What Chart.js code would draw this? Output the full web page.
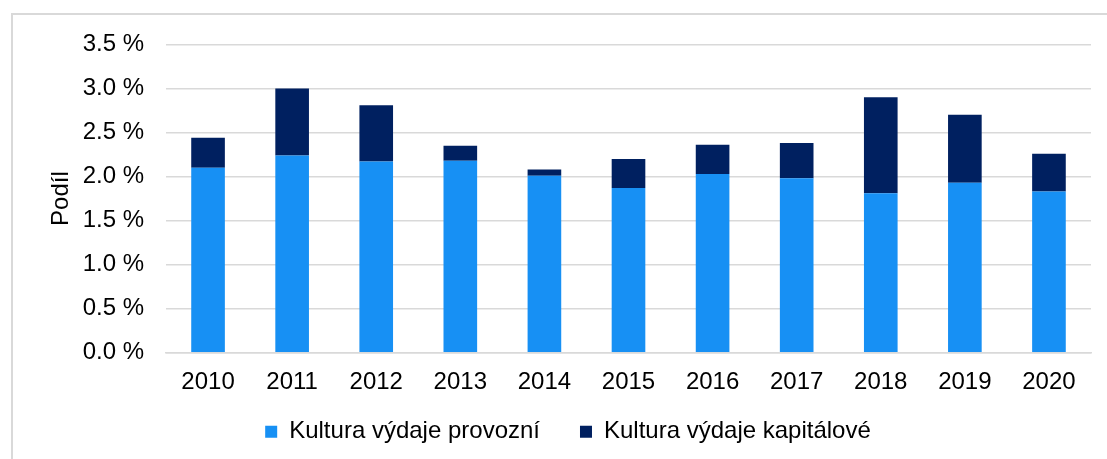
<!DOCTYPE html>
<html>
<head>
<meta charset="utf-8">
<script src="https://cdn.jsdelivr.net/npm/chart.js@4"></script>
<style>
  html, body { margin: 0; padding: 0; background: #fff; overflow: hidden; }
  #frame { position: absolute; left: 11px; top: 13px; width: 1130px; height: 490px; border: 2px solid #d9d9d9; }
  #wrap { position: absolute; left: 0; top: -7.5px; width: 1110px; height: 477.5px; }
</style>
</head>
<body>
<div id="frame"><div id="wrap"><canvas id="myChart"></canvas></div></div>
<script>
const years = ['2010', '2011', '2012', '2013', '2014', '2015', '2016', '2017', '2018', '2019', '2020'];
const provozni = [2.10, 2.24, 2.17, 2.18, 2.01, 1.87, 2.03, 1.98, 1.81, 1.93, 1.83];
const kapitalove = [0.34, 0.76, 0.64, 0.17, 0.07, 0.33, 0.33, 0.40, 1.09, 0.77, 0.43];
const seriesNames = ['Kultura výdaje provozní', 'Kultura výdaje kapitálové'];
const axisTitle = 'Podíl';

const font = 'Liberation Sans, Arial, sans-serif';

// the legend needs wide gaps between items but sits closer to the axis labels
const legendLift = {
  id: 'legendLift',
  afterLayout(chart) {
    chart.legend.top -= 31.7;
    chart.legend.bottom -= 31.7;
  }
};

const ctx = document.getElementById('myChart').getContext('2d');
new Chart(ctx, {
  type: 'bar',
  data: {
    labels: years,
    datasets: [
      { label: seriesNames[0], data: provozni, backgroundColor: '#1790F4', barPercentage: 0.4, categoryPercentage: 1 },
      { label: seriesNames[1], data: kapitalove, backgroundColor: '#002060', barPercentage: 0.4, categoryPercentage: 1 }
    ]
  },
  options: {
    responsive: true,
    maintainAspectRatio: false,
    animation: false,
    layout: { padding: { left: 32, right: 32, top: 20, bottom: 0 } },
    plugins: {
      tooltip: { enabled: false },
      legend: {
        position: 'bottom',
        labels: {
          boxWidth: 12,
          boxHeight: 12,
          padding: 40,
          color: '#000',
          font: { family: font, size: 24 }
        }
      }
    },
    scales: {
      x: {
        stacked: true,
        grid: { display: false, drawTicks: false },
        border: { display: true, color: '#d9d9d9', width: 1.5 },
        ticks: { color: '#000', padding: 15, maxRotation: 0, font: { family: font, size: 24 } }
      },
      y: {
        stacked: true,
        min: 0,
        max: 3.5,
        grid: { color: '#d9d9d9', lineWidth: 1.5, drawTicks: false },
        border: { display: false },
        ticks: {
          stepSize: 0.5,
          padding: 22,
          color: '#000',
          font: { family: font, size: 24 },
          callback: (v) => v.toFixed(1) + ' %'
        },
        title: {
          display: true,
          text: axisTitle,
          color: '#000',
          padding: { top: 2, bottom: 0 },
          font: { family: font, size: 24, lineHeight: 1.2 }
        },
        afterFit: (scale) => { scale.width = 121; }
      }
    }
  },
  plugins: [legendLift]
});
</script>
</body>
</html>
